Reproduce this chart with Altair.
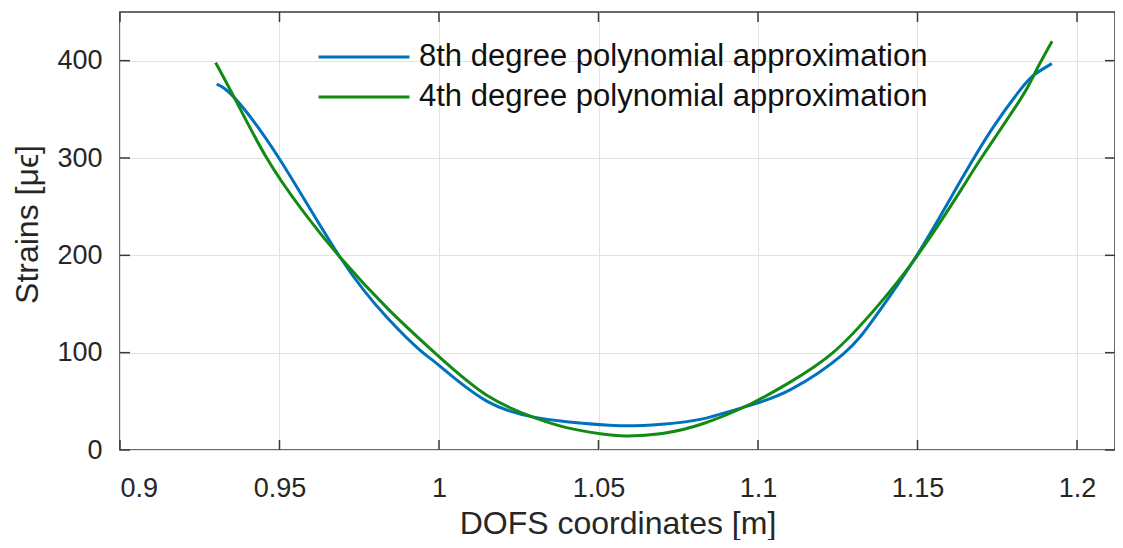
import altair as alt
import pandas as pd

# ---- data ----
names = ["8th degree polynomial approximation", "4th degree polynomial approximation"]
colors = ["#0072BD", "#138A13"]

x8 = [0.9303, 0.9361, 0.950, 0.969, 0.984, 0.9942, 1.0, 1.0151, 1.0301, 1.040,
      1.0567, 1.070, 1.0827, 1.0975, 1.1102, 1.1265, 1.137, 1.150, 1.1634,
      1.1738, 1.1822, 1.1868, 1.1921]
y8 = [376, 361, 299, 198, 135, 102, 87, 50, 33.5, 29,
      25, 26.5, 32, 46, 62, 98, 138, 201, 276,
      332, 370, 386, 397]

x4 = [0.930, 0.936, 0.946, 0.957, 0.969, 0.984, 0.9993, 1.0151, 1.0301, 1.040, 1.050,
      1.0588, 1.070, 1.0827, 1.0975, 1.1102, 1.1235, 1.137, 1.150, 1.1634, 1.1702,
      1.1822, 1.1869, 1.1922]
y4 = [398, 361, 300, 247, 198, 145, 98, 56, 33, 23, 17,
      14.5, 17, 27, 47, 70, 100, 146, 200, 266, 301,
      360, 388, 420]

x_ticks = [0.9, 0.95, 1.0, 1.05, 1.1, 1.15, 1.2]
y_ticks = [0, 100, 200, 300, 400]

# ---- build tables ----
df = pd.concat([
    pd.DataFrame({"x": x8, "y": y8, "series": names[0]}),
    pd.DataFrame({"x": x4, "y": y4, "series": names[1]}),
], ignore_index=True)
xt = pd.DataFrame({"x": x_ticks})
yt = pd.DataFrame({"y": y_ticks})

W, H = 995, 438
FONT = "Liberation Sans, Arial, DejaVu Sans"
AX = "#3a3a3a"
TXT = "#262626"
TL = 10

xscale = alt.Scale(domain=[0.9, 0.9 + W / 3190.0], nice=False, zero=False)
yscale = alt.Scale(domain=[0, 450], nice=False, zero=False)

ax_x = alt.Axis(values=x_ticks, format="~r", title="DOFS coordinates [m]",
                titleY=83, titleBaseline="alphabetic")
ax_y = alt.Axis(values=y_ticks, format="~r", title="Strains [μϵ]",
                titleAngle=270, titleBaseline="alphabetic", titleX=-83, titleY=212,
                titleAlign="center")

lines = alt.Chart(df).mark_line(strokeWidth=3, interpolate="natural", clip=True).encode(
    x=alt.X("x:Q", scale=xscale, axis=ax_x),
    y=alt.Y("y:Q", scale=yscale, axis=ax_y),
    color=alt.Color("series:N", sort=names,
                    scale=alt.Scale(domain=names, range=colors),
                    legend=alt.Legend(title=None, orient="none", legendX=197, legendY=28,
                                      symbolType="stroke", symbolSize=8281,
                                      symbolStrokeWidth=3, labelFontSize=31,
                                      labelFont=FONT, labelColor="#111111",
                                      labelOffset=8, clipHeight=34, rowPadding=6,
                                      padding=0, labelLimit=2000)),
)

bottom_ticks = alt.Chart(xt).mark_rule(color=AX, strokeWidth=1.5).encode(
    x=alt.X("x:Q", scale=xscale, axis=ax_x), y=alt.value(H - TL), y2=alt.value(H))
top_ticks = alt.Chart(xt).mark_rule(color=AX, strokeWidth=1.5).encode(
    x=alt.X("x:Q", scale=xscale, axis=ax_x), y=alt.value(0), y2=alt.value(TL))
left_ticks = alt.Chart(yt).mark_rule(color=AX, strokeWidth=1.5).encode(
    y=alt.Y("y:Q", scale=yscale, axis=ax_y), x=alt.value(0), x2=alt.value(TL))
right_ticks = alt.Chart(yt).mark_rule(color=AX, strokeWidth=1.5).encode(
    y=alt.Y("y:Q", scale=yscale, axis=ax_y), x=alt.value(W - TL), x2=alt.value(W))

chart = alt.layer(lines, bottom_ticks, top_ticks, left_ticks, right_ticks).properties(
    width=W, height=H,
    autosize=alt.AutoSizeParams(type="none"),
    padding={"left": 112, "top": 4, "right": 0, "bottom": 90},
    background="white",
).configure_view(
    stroke=AX, strokeWidth=1.5
).configure_axis(
    grid=True, gridColor="#e2e2e2", gridWidth=1,
    domain=False, ticks=False, tickSize=0,
    labelFont=FONT, labelFontSize=27, labelColor=TXT,
    titleFont=FONT, titleFontSize=32, titleFontWeight="normal", titleColor=TXT,
).configure_axisX(
    labelPadding=46, labelBaseline="alphabetic",
).configure_axisY(
    labelPadding=18, labelBaseline="middle",
)

chart.save("out.html", embed_options={"renderer": "svg", "actions": False})
